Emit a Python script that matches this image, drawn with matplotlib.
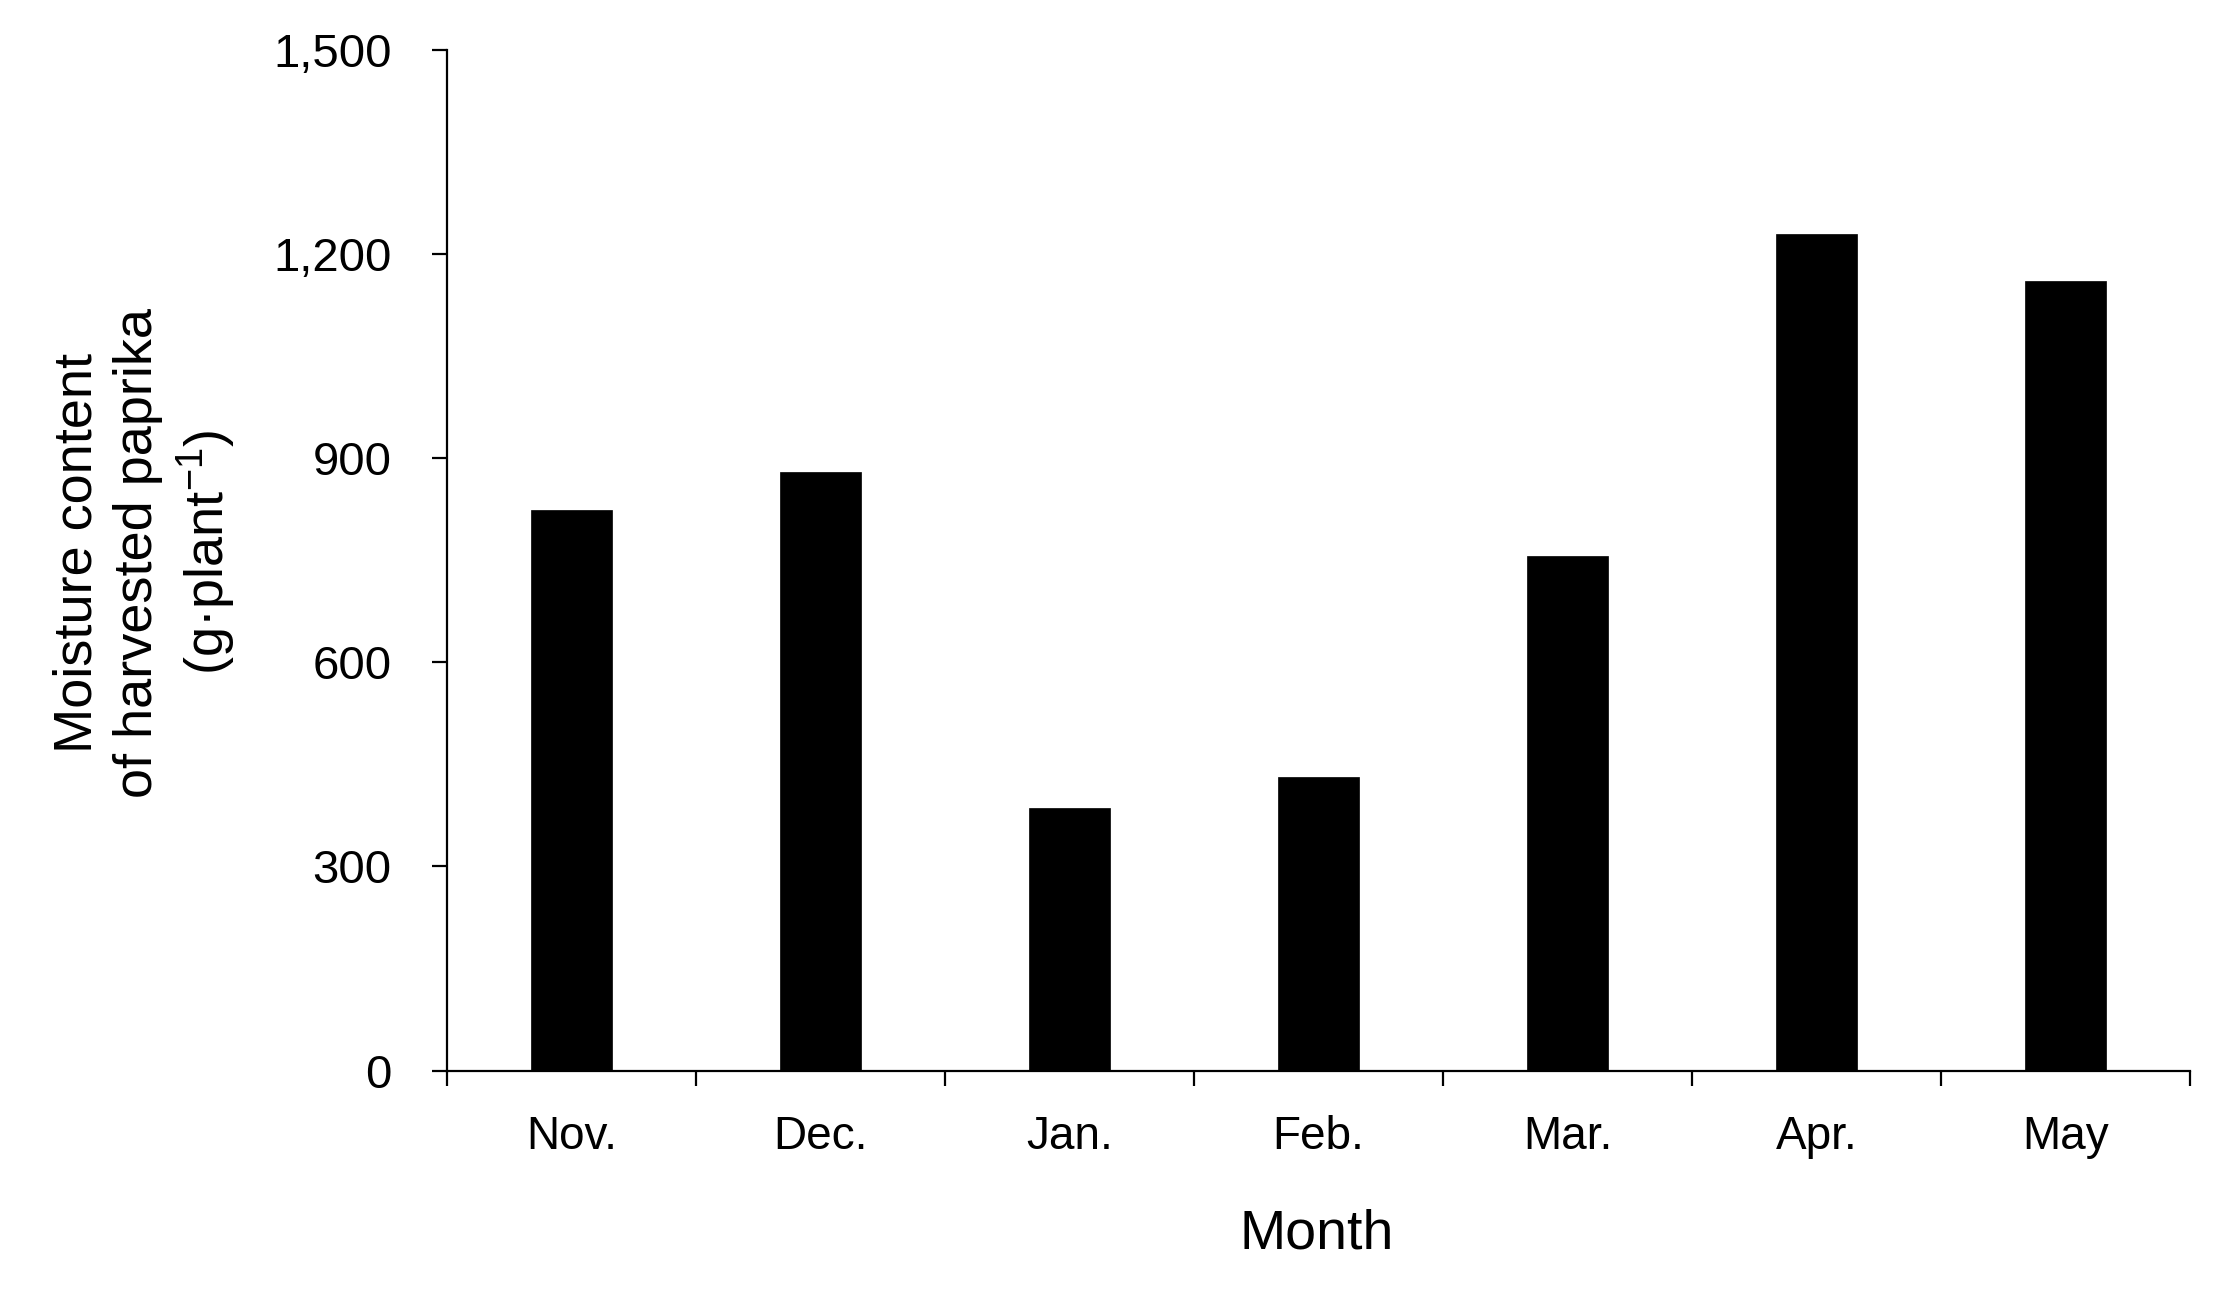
"""
Moisture content of harvested paprika by month
"""

import numpy as np
import matplotlib
matplotlib.use('Agg')
import matplotlib.pyplot as plt
from matplotlib.ticker import FixedLocator, FuncFormatter

# ---------------------------------------------------------------------------- #
# Data
# ---------------------------------------------------------------------------- #
months = ['Nov.', 'Dec.', 'Jan.', 'Feb.', 'Mar.', 'Apr.', 'May']
moisture = [824, 879, 386, 432, 756, 1229, 1161]
y_ticks = [0, 300, 600, 900, 1200, 1500]

# ---------------------------------------------------------------------------- #
# Style
# ---------------------------------------------------------------------------- #
plt.rcParams['font.family'] = ['Liberation Sans', 'DejaVu Sans']
plt.rcParams['mathtext.fontset'] = 'custom'
plt.rcParams['mathtext.rm'] = 'Liberation Sans'
plt.rcParams['mathtext.it'] = 'Liberation Sans:italic'

fig = plt.figure(figsize=(22.35, 12.94), dpi=100)
ax = fig.add_axes([0.200, 0.1727, 0.780, 0.7887])

x = np.arange(len(months))
ax.bar(x, moisture, width=0.325, color='black', edgecolor='black', linewidth=0.5)

ax.set_xlim(-0.5, len(months) - 0.5)
ax.set_ylim(0, 1500)

for side in ['top', 'right']:
    ax.spines[side].set_visible(False)
for side in ['left', 'bottom']:
    ax.spines[side].set_linewidth(1.6)

# y ticks
ax.set_yticks(y_ticks)
ax.yaxis.set_major_formatter(FuncFormatter(lambda v, p: f'{int(v):,}'))
ax.tick_params(axis='y', direction='out', length=11, width=1.6,
               labelsize=34, pad=29)

# x ticks: labels at centres, tick marks at boundaries
ax.set_xticks(x)
ax.set_xticklabels(months)
ax.tick_params(axis='x', which='major', length=0, labelsize=33, pad=32)
ax.xaxis.set_minor_locator(FixedLocator(np.arange(-0.5, len(months), 1.0)))
ax.tick_params(axis='x', which='minor', direction='out', length=11, width=1.6)

# axis labels
fig.text(0.065, 0.573, 'Moisture content\nof harvested paprika\n(g·plant$^{-1}$)',
         rotation=90, ha='center', va='center', multialignment='center',
         fontsize=39, linespacing=1.27)
fig.text(0.589, 0.046, 'Month', ha='center', va='center', fontsize=40)

fig.savefig('out.png', dpi=100)
plt.close()
